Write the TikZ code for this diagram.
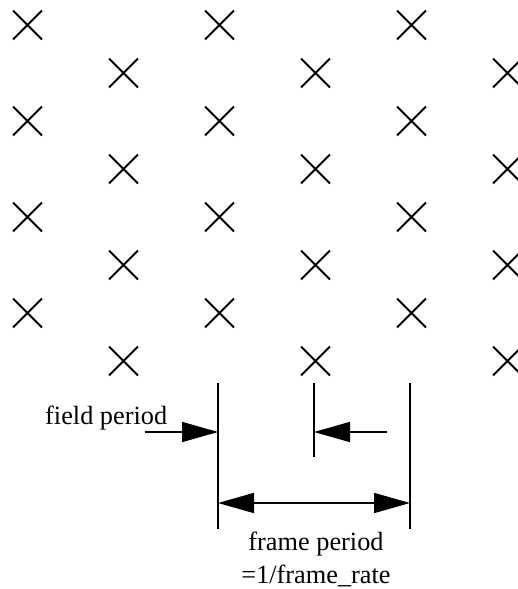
\documentclass[tikz,border=0pt]{standalone}
\usepackage{fontspec}
\setmainfont{Liberation Serif}
\usetikzlibrary{shapes.misc,arrows.meta}
\begin{document}
\begin{tikzpicture}[x=1pt,y=-1pt,
  xmark/.style={cross out,draw,line width=1.9pt,minimum size=27pt,inner sep=0pt},
  tickline/.style={line width=1.9pt},
  dimarrow/.style={line width=1.6pt,-{Triangle[length=36pt,width=20pt]}},
  lbl/.style={font=\fontsize{26.3}{30}\selectfont,inner sep=0pt}]
\useasboundingbox (0,0) rectangle (517,589);
% crosses
\foreach \i in {0,1,2,3}{
  \foreach \c in {0,2,4}{
    \node[xmark] (o\c\i) at ({27.5+96*\c},{25+96*\i}) {};
  }
  \foreach \c in {1,3,5}{
    \node[xmark] (e\c\i) at ({27.5+96*\c},{73+96*\i}) {};
  }
}
% dimension lines
\coordinate (lt) at (218,383); \coordinate (lb) at (218,529);
\coordinate (mt) at (314,383); \coordinate (mb) at (314,457);
\coordinate (rt) at (410,383); \coordinate (rb) at (410,529);
\draw[tickline] (lt) -- (lb);
\draw[tickline] (mt) -- (mb);
\draw[tickline] (rt) -- (rb);
\coordinate (fa) at (145,432); \coordinate (fb) at (218,432);
\coordinate (ma) at (387,432); \coordinate (mbb) at (314,432);
\coordinate (ra) at (218,503); \coordinate (rbb) at (410,503);
\draw[dimarrow] (fa) -- (fb);
\draw[dimarrow] (ma) -- (mbb);
\draw[dimarrow,{Triangle[length=36pt,width=20pt]}-{Triangle[length=36pt,width=20pt]}] (ra) -- (rbb);
\node[lbl,anchor=base west] (field) at (45,424.3) {field period};
\node[lbl,anchor=base] (frame) at (316,550.7) {frame period};
\node[lbl,anchor=base] (rate) at (316,583) {=1/frame\_rate};
\end{tikzpicture}
\end{document}
